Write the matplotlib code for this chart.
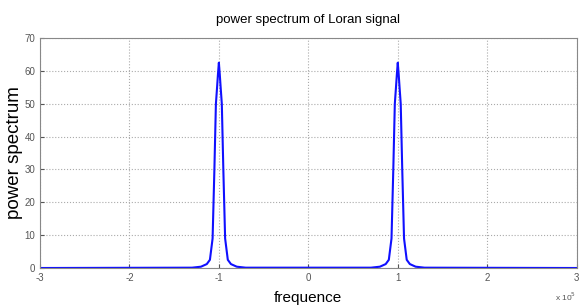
import numpy as np
import matplotlib.pyplot as plt

plt.rcParams["font.family"] = "Liberation Sans"

# frequency offsets from each peak centre (x 1e5) and power
offsets = [-0.30, -0.20, -0.135, -0.10, -0.07, -0.05, -0.033, -0.02, -0.01, 0.0,
           0.01, 0.02, 0.033, 0.05, 0.07, 0.10, 0.135, 0.20, 0.30]
power = [0.1, 0.4, 1.2, 2.5, 9.0, 30.0, 50.0, 55.0, 59.0, 62.5,
         59.0, 55.0, 50.0, 30.0, 9.0, 2.5, 1.2, 0.4, 0.1]
centres = [-1.0, 1.0]
x_ends = [-3.0, 3.0]

xs = [x_ends[0]]
ys = [0.0]
for c in centres:
    xs += [c + o for o in offsets]
    ys += power
xs.append(x_ends[1])
ys.append(0.0)
xs = np.array(xs) * 1e5
ys = np.array(ys)

fig = plt.figure(figsize=(5.79, 3.07), dpi=100)
ax = fig.add_axes([0.069, 0.127, 0.927, 0.749])
ax.plot(xs, ys, color="#1010ff", lw=1.5)
ax.set_xlim(-3e5, 3e5)
ax.set_ylim(0, 70)
ax.set_xticks(np.arange(-3, 4) * 1e5)
ax.set_xticklabels([str(v) for v in range(-3, 4)])
ax.set_yticks(range(0, 71, 10))
ax.grid(True, linestyle=":", color="#aaaaaa", lw=0.8)
ax.tick_params(direction="in", labelsize=7, colors="#555555", length=3)
for s in ax.spines.values():
    s.set_color("#888888")
ax.set_title("power spectrum of Loran signal", fontsize=9.5, pad=11)
ax.set_xlabel("frequence", fontsize=11, labelpad=6)
ax.set_ylabel("power spectrum", fontsize=13.5, labelpad=1)
fig.text(0.995, 0.02, r"x 10$^5$", fontsize=6, color="#555555", ha="right")
fig.savefig("out.png", dpi=100)
